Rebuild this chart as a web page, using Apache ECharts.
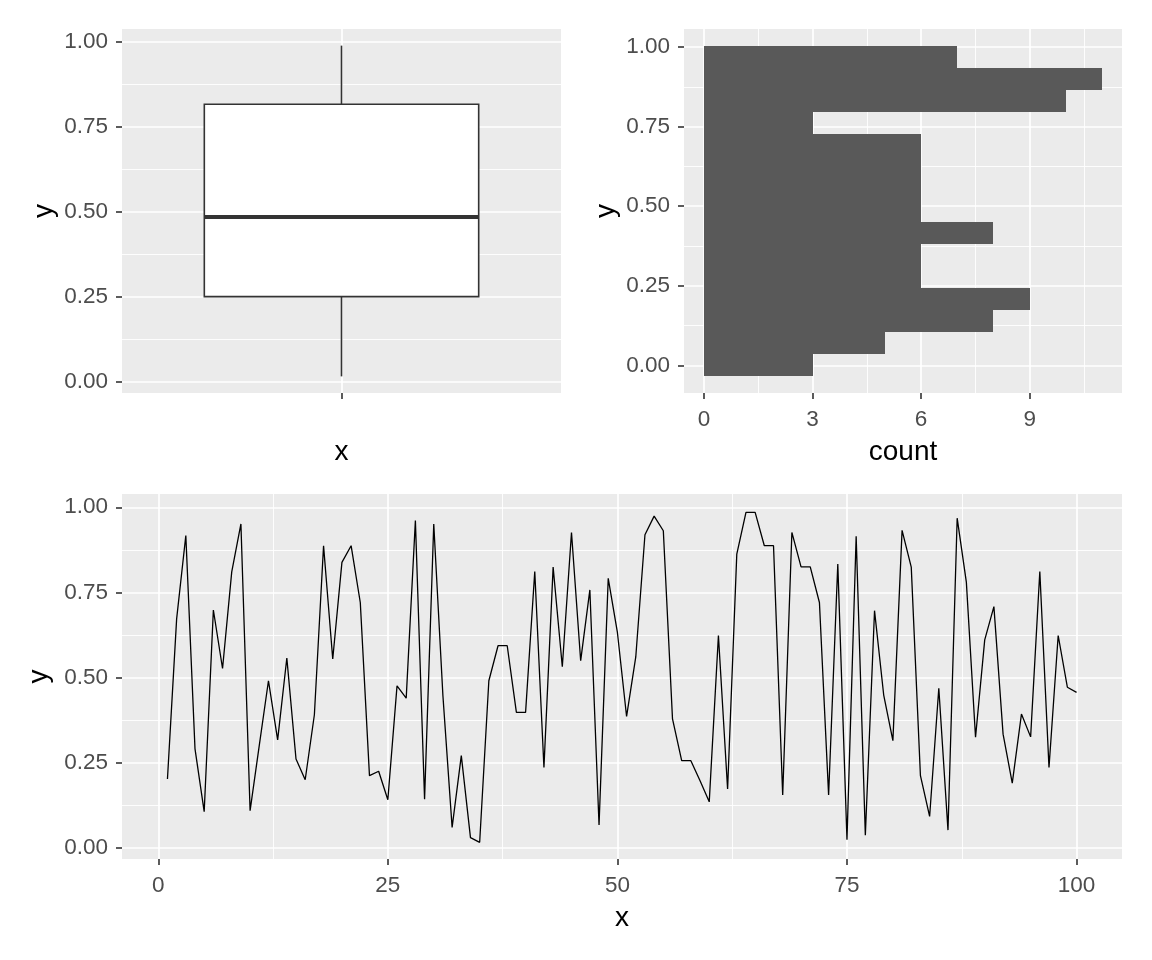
<!DOCTYPE html>
<html>
<head>
<meta charset="utf-8">
<title>boxplot / histogram / line</title>
<script src="https://cdn.jsdelivr.net/npm/echarts@6/dist/echarts.min.js"></script>
<style>
  html, body { margin: 0; padding: 0; background: #fff; }
  #main { width: 1152px; height: 960px; }
</style>
</head>
<body>
<div id="main"></div>
<script>
  // y values of the line plot, x runs 1..100
  var yValues = [
    0.201, 0.672, 0.917, 0.290, 0.105, 0.698, 0.526, 0.810, 0.951, 0.108,
    0.300, 0.490, 0.316, 0.557, 0.260, 0.199, 0.390, 0.887, 0.554, 0.838,
    0.887, 0.720, 0.211, 0.224, 0.140, 0.475, 0.439, 0.961, 0.142, 0.951,
    0.445, 0.059, 0.270, 0.029, 0.015, 0.490, 0.593, 0.593, 0.397, 0.397,
    0.811, 0.235, 0.824, 0.531, 0.926, 0.549, 0.757, 0.066, 0.791, 0.632,
    0.385, 0.560, 0.919, 0.974, 0.931, 0.378, 0.255, 0.255, 0.196, 0.134,
    0.623, 0.172, 0.862, 0.985, 0.985, 0.887, 0.887, 0.154, 0.926, 0.825,
    0.825, 0.720, 0.154, 0.833, 0.023, 0.915, 0.036, 0.696, 0.448, 0.314,
    0.932, 0.824, 0.211, 0.091, 0.468, 0.051, 0.968, 0.780, 0.324, 0.610,
    0.708, 0.333, 0.189, 0.392, 0.325, 0.811, 0.235, 0.623, 0.471, 0.456
  ]
  // boxplot: min, q1, median, q3, max
  var boxStats = [0.015, 0.25, 0.485, 0.817, 0.99]
  // histogram bins (edges on y) and counts
  var histEdges = [-0.035, 0.035, 0.104, 0.173, 0.243, 0.312, 0.381, 0.451, 0.520, 0.589, 0.658, 0.728, 0.797, 0.866, 0.936, 1.005]
  var histCounts = [3, 5, 8, 9, 6, 6, 8, 6, 6, 6, 6, 3, 10, 11, 7]
  // tick values
  var yTicks = [0, 0.25, 0.5, 0.75, 1]
  var yMinorTicks = [0.125, 0.375, 0.625, 0.875]
  var countTicks = [0, 3, 6, 9]
  var countMinorTicks = [1.5, 4.5, 7.5, 10.5]
  var xTicks = [0, 25, 50, 75, 100]
  var xMinorTicks = [12.5, 37.5, 62.5, 87.5]

  var FONT = 'Liberation Sans, Arial, sans-serif'
  var INK = '#333333'

  function mainAxis(gridIndex, min, max, ticks, name, isY, showLabel, fmt) {
    return {
      type: 'value',
      gridIndex: gridIndex,
      position: isY ? 'left' : 'bottom',
      min: min,
      max: max,
      name: name,
      nameLocation: 'middle',
      nameGap: isY ? 64 : 45,
      nameTextStyle: { color: '#000', fontSize: 28, fontFamily: FONT },
      axisLine: { show: false, onZero: false },
      axisTick: { show: true, length: 6, customValues: ticks, lineStyle: { color: INK, width: 1.6 } },
      axisLabel: {
        show: showLabel,
        customValues: ticks,
        color: '#4D4D4D',
        fontSize: 22.5,
        fontFamily: FONT,
        margin: isY ? 14 : 15,
        formatter: fmt
      },
      splitLine: { show: true, lineStyle: { color: '#FFFFFF', width: 1.7 } }
    }
  }

  function minorAxis(gridIndex, min, max, ticks, isY) {
    return {
      type: 'value',
      gridIndex: gridIndex,
      position: isY ? 'right' : 'top',
      min: min,
      max: max,
      axisLine: { show: false, onZero: false },
      axisTick: { show: false, customValues: ticks },
      axisLabel: { show: false, customValues: ticks },
      splitLine: { show: true, lineStyle: { color: '#FFFFFF', width: 0.9 } }
    }
  }

  function fmt2(v) { return Number(v).toFixed(2) }
  function fmt0(v) { return String(v) }

  var histData = []
  for (var i = 0; i < histCounts.length; i++) {
    histData.push([histEdges[i], histEdges[i + 1], histCounts[i]])
  }
  var lineData = yValues.map(function (v, i) { return [i + 1, v] })

  var myChart = echarts.init(document.getElementById('main'), null, { renderer: 'canvas' })
  var panel = { show: true, backgroundColor: '#EBEBEB', borderWidth: 0, containLabel: false, outerBoundsMode: 'none' }
  var option = {
    backgroundColor: '#FFFFFF',
    animation: false,
    textStyle: { fontFamily: FONT },
    grid: [
      Object.assign({ left: 122, top: 29, width: 439, height: 364 }, panel),
      Object.assign({ left: 684, top: 29, width: 438, height: 364 }, panel),
      Object.assign({ left: 122, top: 494, width: 1000, height: 365 }, panel)
    ],
    xAxis: [
      mainAxis(0, 0.4, 1.6, [1], 'x', false, false, fmt0),
      mainAxis(1, -0.55, 11.55, countTicks, 'count', false, true, fmt0),
      minorAxis(1, -0.55, 11.55, countMinorTicks, false),
      mainAxis(2, -3.95, 104.95, xTicks, 'x', false, true, fmt0),
      minorAxis(2, -3.95, 104.95, xMinorTicks, false)
    ],
    yAxis: [
      mainAxis(0, -0.034, 1.039, yTicks, 'y', true, true, fmt2),
      minorAxis(0, -0.034, 1.039, yMinorTicks, true),
      mainAxis(1, -0.087, 1.057, yTicks, 'y', true, true, fmt2),
      minorAxis(1, -0.087, 1.057, yMinorTicks, true),
      mainAxis(2, -0.034, 1.039, yTicks, 'y', true, true, fmt2),
      minorAxis(2, -0.034, 1.039, yMinorTicks, true)
    ],
    series: [
      {
        // boxplot drawn by hand: no whisker caps like ggplot
        type: 'custom',
        xAxisIndex: 0,
        yAxisIndex: 0,
        silent: true,
        encode: { x: 0, y: [1, 2, 3, 4, 5] },
        data: [[1].concat(boxStats)],
        renderItem: function (params, api) {
          var x = api.value(0)
          var halfW = 0.375
          var pMin = api.coord([x, api.value(1)])
          var pQ1 = api.coord([x, api.value(2)])
          var pQ3 = api.coord([x, api.value(4)])
          var pMax = api.coord([x, api.value(5)])
          var pQ1L = api.coord([x - halfW, api.value(2)])
          var pQ3R = api.coord([x + halfW, api.value(4)])
          var pMedL = api.coord([x - halfW, api.value(3)])
          var pMedR = api.coord([x + halfW, api.value(3)])
          return {
            type: 'group',
            children: [
              { type: 'line', shape: { x1: pMax[0], y1: pMax[1], x2: pQ3[0], y2: pQ3[1] }, style: { stroke: INK, lineWidth: 1.6 } },
              { type: 'line', shape: { x1: pQ1[0], y1: pQ1[1], x2: pMin[0], y2: pMin[1] }, style: { stroke: INK, lineWidth: 1.6 } },
              {
                type: 'rect',
                shape: { x: pQ1L[0], y: pQ3R[1], width: pQ3R[0] - pQ1L[0], height: pQ1L[1] - pQ3R[1] },
                style: { fill: '#FFFFFF', stroke: INK, lineWidth: 1.6 }
              },
              { type: 'line', shape: { x1: pMedL[0], y1: pMedL[1], x2: pMedR[0], y2: pMedR[1] }, style: { stroke: INK, lineWidth: 4 } }
            ]
          }
        }
      },
      {
        // horizontal histogram, edges snapped to whole pixels so bins touch without seams
        type: 'custom',
        xAxisIndex: 1,
        yAxisIndex: 2,
        silent: true,
        encode: { x: 2, y: [0, 1] },
        data: histData,
        renderItem: function (params, api) {
          var p1 = api.coord([0, api.value(1)])
          var p2 = api.coord([api.value(2), api.value(0)])
          var x0 = Math.round(p1[0]), y0 = Math.round(p1[1])
          var x1 = Math.round(p2[0]), y1 = Math.round(p2[1])
          return {
            type: 'rect',
            shape: { x: x0, y: y0, width: x1 - x0, height: y1 - y0 },
            style: { fill: '#595959' }
          }
        }
      },
      {
        type: 'line',
        xAxisIndex: 3,
        yAxisIndex: 4,
        silent: true,
        symbol: 'none',
        showSymbol: false,
        data: lineData,
        lineStyle: { color: '#000000', width: 1.3 },
        itemStyle: { color: '#000000' }
      }
    ]
  }
  myChart.setOption(option)
</script>
</body>
</html>
